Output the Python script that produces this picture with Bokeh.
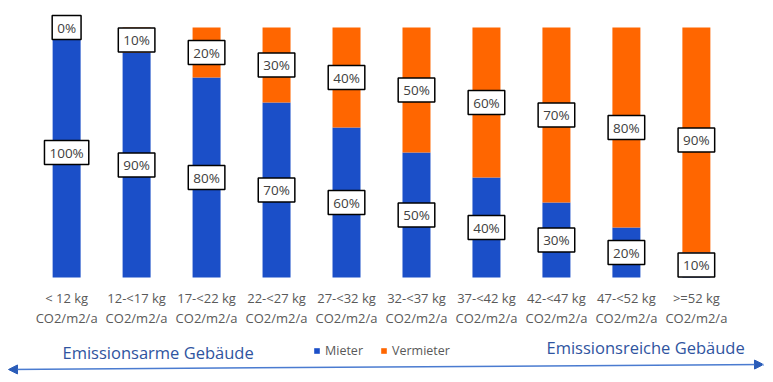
from bokeh.plotting import figure
from bokeh.models import (ColumnDataSource, FactorRange, Range1d, Label,
                          Legend, LegendItem, Arrow, NormalHead)
from bokeh.core.properties import value
from bokeh.embed import file_html
from bokeh.resources import INLINE

# ---- data ----
bands = ["< 12 kg", "12-<17 kg", "17-<22 kg", "22-<27 kg", "27-<32 kg",
         "32-<37 kg", "37-<42 kg", "42-<47 kg", "47-<52 kg", ">=52 kg"]
unit = "CO2/m2/a"
mieter = [100, 90, 80, 70, 60, 50, 40, 30, 20, 10]
vermieter = [0, 10, 20, 30, 40, 50, 60, 70, 80, 90]
series = ["Mieter", "Vermieter"]
colors = ["#1B4FC8", "#FF6600"]
left_note = "Emissionsarme Gebäude"
right_note = "Emissionsreiche Gebäude"

FONT = "Open Sans"
cats = [f"{b}\n{unit}" for b in bands]

src = ColumnDataSource(dict(cat=cats, Mieter=mieter, Vermieter=vermieter))

p = figure(width=773, height=382,
           x_range=FactorRange(*cats, range_padding=0.445, range_padding_units="absolute"),
           y_range=Range1d(-42.0, 110.8),
           output_backend="svg", toolbar_location=None,
           min_border_left=0, min_border_right=11, min_border_top=0, min_border_bottom=0)
p.outline_line_color = None
p.xgrid.visible = False
p.ygrid.visible = False
p.yaxis.visible = False
ax = p.xaxis[0]
ax.fixed_location = 0
ax.axis_line_color = None
ax.major_tick_line_color = None
ax.minor_tick_line_color = None
ax.major_tick_out = 0
ax.major_tick_in = 0
ax.major_label_standoff = 11
ax.major_label_text_font = FONT
ax.major_label_text_font_size = "13px"
ax.major_label_text_color = "#595959"
ax.major_label_text_line_height = 1.13

rs = p.vbar_stack(series, x="cat", width=0.4, color=colors, source=src, line_width=0)

# value labels, centred in each segment
lab_x = cats + cats
lab_y = [m / 2 for m in mieter] + [m + v / 2 for m, v in zip(mieter, vermieter)]
lab_t = [f"{m}%" for m in mieter] + [f"{v}%" for v in vermieter]
lsrc = ColumnDataSource(dict(x=lab_x, y=lab_y, t=lab_t))
p.text(x="x", y="y", text="t", source=lsrc, text_align="center",
       text_baseline="middle", text_font=value(FONT), text_font_size="13.5px",
       text_color="#404040", background_fill_color="white",
       border_line_color="black", border_line_width=1.5,
       padding=dict(left=5, right=5, top=3, bottom=3))

legend = Legend(items=[LegendItem(label=s, renderers=[r]) for s, r in zip(series, rs)],
                orientation="horizontal", location=(313, 23), padding=0, margin=0,
                border_line_color=None, background_fill_alpha=0,
                glyph_width=7, glyph_height=7, label_height=14, label_width=10,
                label_text_font=FONT, label_text_font_size="12.5px",
                label_text_color="#595959", spacing=17, label_standoff=5)
p.add_layout(legend, "center")

p.add_layout(Label(x=62, y=30, x_units="screen", y_units="screen", text=left_note,
                   text_font=FONT, text_font_size="16.5px", text_baseline="alphabetic",
                   text_color="#2F54A0"))
p.add_layout(Label(x=546, y=35, x_units="screen", y_units="screen", text=right_note,
                   text_font=FONT, text_font_size="16.5px", text_baseline="alphabetic",
                   text_color="#2F54A0"))

head = dict(size=9, fill_color="#2A5CB8", line_color="#2A5CB8")
p.add_layout(Arrow(x_start=8, y_start=13, x_end=763, y_end=18,
                   start_units="screen", end_units="screen",
                   line_color="#4A7BD0", line_width=1.5,
                   start=NormalHead(**head), end=NormalHead(**head)))

open("out.html", "w").write(file_html(p, INLINE))
